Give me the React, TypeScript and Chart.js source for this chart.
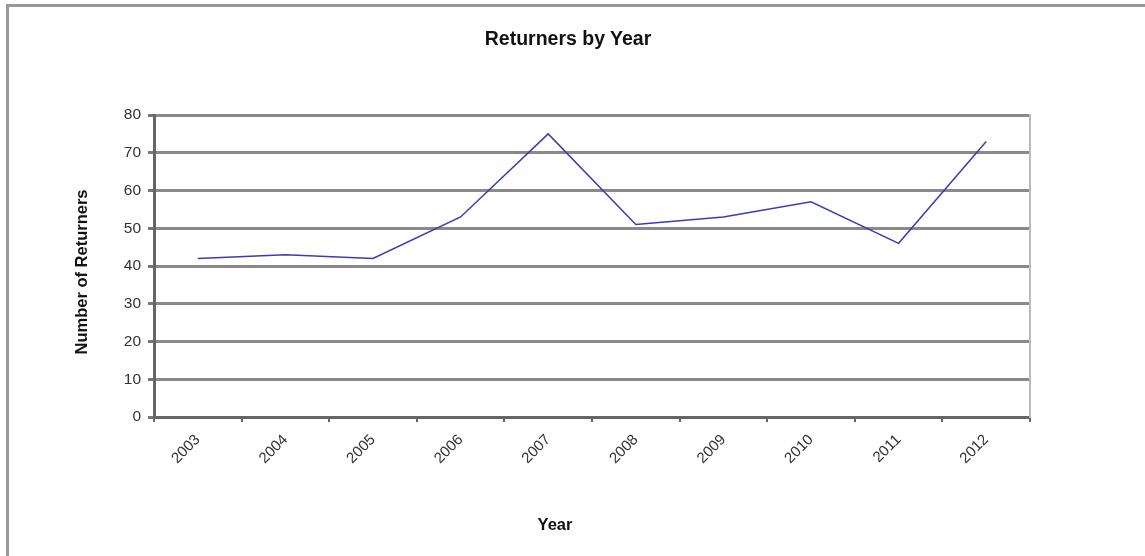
import React, { useEffect, useRef } from "react";
import { Chart, registerables } from "chart.js";

Chart.register(...registerables);

const years = ["2003", "2004", "2005", "2006", "2007", "2008", "2009", "2010", "2011", "2012"];
const returners = [42, 43, 42, 53, 75, 51, 53, 57, 46, 73];
const yTicks = [0, 10, 20, 30, 40, 50, 60, 70, 80];

const chartTitle = "Returners by Year";
const xTitle = "Year";
const yTitle = "Number of Returners";

const W = 1145;
const H = 556;
const AREA_LEFT = 154;
const AREA_RIGHT = 1030;
const AREA_TOP = 115;
const AREA_BOTTOM = 417;
const FONT = "'Liberation Sans', Arial, Helvetica, sans-serif";

export default function App() {
  const ref = useRef<HTMLCanvasElement | null>(null);

  useEffect(() => {
    if (!ref.current) return;
    const chart = new Chart(ref.current, {
      type: "line",
      data: {
        labels: years,
        datasets: [
          {
            label: "Returners",
            data: returners,
            borderColor: "#3a3db2",
            borderWidth: 1.5,
            pointRadius: 0,
            tension: 0,
            fill: false,
          },
        ],
      },
      options: {
        responsive: false,
        animation: false,
        layout: {
          padding: { left: 0, right: W - AREA_RIGHT, top: AREA_TOP, bottom: 0 },
        },
        plugins: {
          legend: { display: false },
          title: { display: false },
          tooltip: { enabled: false },
        },
        scales: {
          x: {
            type: "category",
            offset: true,
            grid: {
              offset: true,
              drawOnChartArea: false,
              drawTicks: true,
              tickLength: 5,
              tickColor: "#666",
              lineWidth: 2,
            },
            border: { display: true, color: "#666", width: 3 },
            ticks: {
              minRotation: 45,
              maxRotation: 45,
              padding: 9,
              color: "#333",
              font: { family: FONT, size: 15 },
            },
            afterFit: (s: any) => {
              s.height = H - AREA_BOTTOM;
            },
          },
          y: {
            position: "left",
            min: 0,
            max: 80,
            afterBuildTicks: (s: any) => {
              s.ticks = yTicks.map((v) => ({ value: v }));
            },
            grid: {
              color: "#8a8a8a",
              lineWidth: 3,
              drawTicks: true,
              tickLength: 6,
              tickColor: "#777",
            },
            border: { display: true, color: "#666", width: 3 },
            ticks: {
              padding: 7,
              color: "#333",
              font: { family: FONT, size: 15.5 },
            },
            afterFit: (s: any) => {
              s.width = AREA_LEFT;
            },
          },
          y2: {
            position: "right",
            min: 0,
            max: 80,
            grid: { display: false, drawTicks: false },
            ticks: { display: false },
            border: { display: true, color: "#bbbbbb", width: 2 },
            afterFit: (s: any) => {
              s.width = 0;
            },
          },
        },
      },
    });
    return () => chart.destroy();
  }, []);

  return (
    <div
      style={{
        position: "absolute",
        left: 0,
        top: 0,
        width: W,
        height: H,
        background: "#ffffff",
        overflow: "hidden",
        fontFamily: FONT,
      }}
    >
      <div
        style={{
          position: "absolute",
          left: 6,
          top: 4,
          width: W,
          height: H,
          borderTop: "3px solid #999",
          borderLeft: "3px solid #999",
          boxSizing: "border-box",
        }}
      />
      <canvas
        ref={ref}
        width={W}
        height={H}
        style={{ position: "absolute", left: 0, top: 0, width: W, height: H }}
      />
      <div
        style={{
          position: "absolute",
          left: 368,
          width: 400,
          top: 27,
          textAlign: "center",
          fontWeight: "bold",
          fontSize: 19.5,
          color: "#111",
        }}
      >
        {chartTitle}
      </div>
      <div
        style={{
          position: "absolute",
          left: 455,
          width: 200,
          top: 515,
          textAlign: "center",
          fontWeight: "bold",
          fontSize: 16.5,
          color: "#111",
        }}
      >
        {xTitle}
      </div>
      <div
        style={{
          position: "absolute",
          left: 81,
          top: 272,
          width: 0,
          height: 0,
        }}
      >
        <div
          style={{
            position: "absolute",
            left: -150,
            top: -10,
            width: 300,
            textAlign: "center",
            fontWeight: "bold",
            fontSize: 16.5,
            color: "#111",
            lineHeight: "20px",
            transform: "rotate(-90deg)",
            transformOrigin: "150px 10px",
          }}
        >
          {yTitle}
        </div>
      </div>
    </div>
  );
}
